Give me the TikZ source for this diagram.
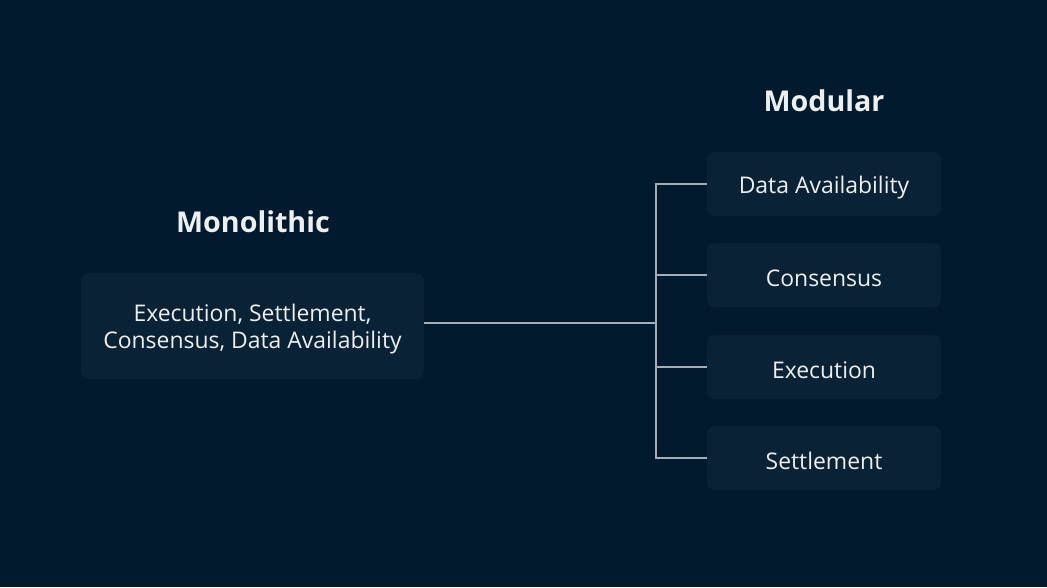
\documentclass[tikz,border=0pt]{standalone}
\usepackage{fontspec}
\setmainfont{Open Sans}
\definecolor{bg}{HTML}{011A2D}
\definecolor{boxc}{HTML}{0A2236}
\definecolor{txt}{HTML}{EDF0F2}
\definecolor{linec}{HTML}{A3ADB6}
\newcommand{\dn}[1]{\raisebox{-2.4pt}[\height][\depth]{#1}}
\begin{document}
\begin{tikzpicture}[x=0.75pt,y=-0.75pt,
  card/.style={fill=boxc,rounded corners=6pt,text=txt,font=\fontsize{17.2}{20.2}\selectfont,align=center,inner sep=0pt},
  title/.style={text=txt,font=\fontsize{21.5}{26}\selectfont\bfseries},
  conn/.style={draw=linec,line width=0.9pt}]
\fill[bg] (0,0) rectangle (1047,587);
\useasboundingbox (0,0) rectangle (1047,587);
\node[title] (tmono) at (253,222) {Monolithic};
\node[title] (tmod) at (824,101) {Modular};
\node[card,minimum width=257.25pt,minimum height=79.5pt] (L) at (252.5,326) {\dn{\begin{tabular}{@{}c@{}}Execution, Settlement,\\Consensus, Data Availability\end{tabular}}};
\node[card,minimum width=175.5pt,minimum height=48pt] (d1) at (824,184) {\dn{Data Availability}};
\node[card,minimum width=175.5pt,minimum height=48pt] (d2) at (824,275) {\dn{Consensus}};
\node[card,minimum width=175.5pt,minimum height=48pt] (d3) at (824,367) {\dn{Execution}};
\node[card,minimum width=175.5pt,minimum height=48pt] (d4) at (824,458) {\dn{Settlement}};
\coordinate (j) at (656,323);
\draw[conn] (L.east |- j) -- (j);
\draw[conn] (d1.west) -- (d1.west -| j) -- (d4.west -| j) -- (d4.west);
\draw[conn] (d2.west) -- (d2.west -| j);
\draw[conn] (d3.west) -- (d3.west -| j);
\end{tikzpicture}
\end{document}
